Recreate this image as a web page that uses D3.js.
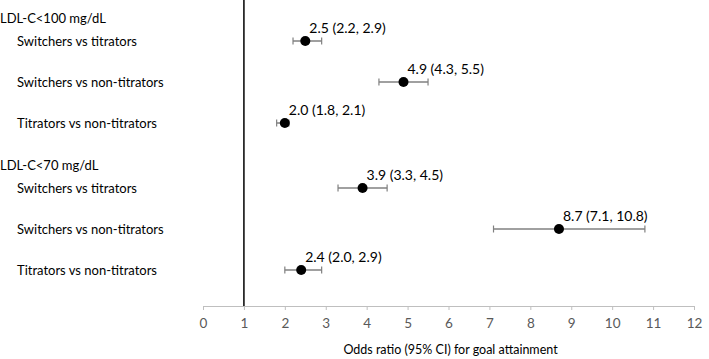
<!DOCTYPE html>
<html><head><meta charset="utf-8">
<script src="https://cdn.jsdelivr.net/npm/d3@7"></script>
<style>body{margin:0;background:#fff}svg{display:block}</style>
</head><body>
<script>
const groups = ["LDL-C<100 mg/dL", "LDL-C<70 mg/dL"];
const comparisons = ["Switchers vs titrators", "Switchers vs non-titrators", "Titrators vs non-titrators"];
const groupIdx = [0, 0, 0, 1, 1, 1];
const oddsRatio = [2.5, 4.9, 2.0, 3.9, 8.7, 2.4];
const ciLow = [2.2, 4.3, 1.8, 3.3, 7.1, 2.0];
const ciHigh = [2.9, 5.5, 2.1, 4.5, 10.8, 2.9];
const xTicks = [0,1,2,3,4,5,6,7,8,9,10,11,12];
const refLine = 1;
const xTitle = "Odds ratio (95% CI) for goal attainment";

const W = 709, H = 359;
const font = "Lato, 'Open Sans', sans-serif";
const svg = d3.select("body").append("svg").attr("width", W).attr("height", H)
  .style("font-family", font);

const x = d3.scaleLinear().domain([0, 12]).range([203, 694]);
const axisY = 306;
const rowStep = 41, groupGap = 65, firstRow = 41;
const rowY = (g, i) => firstRow + g * (2 * rowStep + groupGap) + i * rowStep;

const rows = oddsRatio.map((v, k) => ({
  g: groupIdx[k], i: k % 3, label: comparisons[k % 3], or: v, lo: ciLow[k], hi: ciHigh[k]
}));

svg.append("line").attr("x1", x(refLine)).attr("x2", x(refLine))
  .attr("y1", 0).attr("y2", axisY).attr("stroke", "#000").attr("stroke-width", 1.5);

const axis = d3.axisBottom(x).tickValues(xTicks).tickSize(4).tickPadding(8).tickFormat(d3.format("d"));
const ag = svg.append("g").attr("transform", `translate(0,${axisY})`).call(axis);
ag.select(".domain").attr("stroke", "#bfbfbf");
ag.selectAll(".tick line").attr("stroke", "#bfbfbf");
ag.selectAll(".tick text").attr("fill", "#595959").style("font-size", "13.5px").style("font-family", font);

svg.append("text").attr("x", (x(0) + x(12)) / 2 + 2).attr("y", 354)
  .attr("text-anchor", "middle").style("font-size", "12.5px").attr("fill", "#000").text(xTitle);

groups.forEach((gname, g) => {
  svg.append("text").attr("x", 0).attr("y", rowY(g, 0) - 23 + 5)
    .style("font-size", "13px").attr("fill", "#000").text(gname);
});

svg.selectAll(".rl").data(rows).enter().append("text")
  .attr("x", 17).attr("y", d => rowY(d.g, d.i) + 5)
  .style("font-size", "13px").attr("fill", "#000").text(d => d.label);

const eb = svg.selectAll(".eb").data(rows).enter().append("g");
eb.append("line").attr("x1", d => x(d.lo)).attr("x2", d => x(d.hi))
  .attr("y1", d => rowY(d.g, d.i)).attr("y2", d => rowY(d.g, d.i))
  .attr("stroke", "#808080").attr("stroke-width", 1.5);
["lo", "hi"].forEach(k => {
  eb.append("line").attr("x1", d => x(d[k])).attr("x2", d => x(d[k]))
    .attr("y1", d => rowY(d.g, d.i) - 3.5).attr("y2", d => rowY(d.g, d.i) + 3.5)
    .attr("stroke", "#808080").attr("stroke-width", 1.2);
});
eb.append("circle").attr("cx", d => x(d.or)).attr("cy", d => rowY(d.g, d.i))
  .attr("r", 5).attr("fill", "#000");

const f = d3.format(".1f");
eb.append("text").attr("x", d => x(d.or) + 4).attr("y", d => rowY(d.g, d.i) - 8)
  .style("font-size", "14px").attr("fill", "#000")
  .text(d => `${f(d.or)} (${f(d.lo)}, ${f(d.hi)})`);
</script>
</body></html>
